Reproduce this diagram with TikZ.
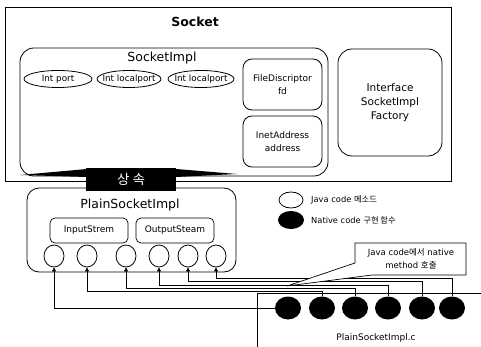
\documentclass[tikz,border=0pt]{standalone}
\usepackage{fontspec}
\setmainfont{DejaVu Sans}
\newfontfamily\kr{Noto Sans CJK KR}
\usetikzlibrary{shapes.geometric,arrows.meta}
\tikzset{
 frame/.style={draw, line width=0.8pt, inner sep=0pt},
 rbox/.style={draw, rounded corners=14pt, line width=0.8pt, inner sep=0pt},
 sbox/.style={draw, rounded corners=9pt, line width=0.8pt, inner sep=0pt, align=center, font=\fontsize{9}{12.5}\selectfont},
 tbox/.style={draw, rounded corners=5pt, line width=0.7pt, inner sep=0pt, font=\fontsize{9}{10}\selectfont},
 ovaltext/.style={inner sep=0pt, font=\fontsize{8.8}{10}\selectfont},
 ovalline/.style={line width=0.8pt},
 jdot/.style={draw, ellipse, line width=0.8pt, minimum width=20pt, minimum height=22pt, inner sep=0pt},
 ndot/.style={fill=black, ellipse, minimum width=26pt, minimum height=23pt, inner sep=0pt},
 conn/.style={line width=0.6pt, -{Triangle[length=4pt,width=4pt]}},
 lbl/.style={inner sep=0pt, font=\fontsize{8.3}{10}\selectfont},
}
\begin{document}
\begin{tikzpicture}[x=1pt,y=-1pt]
\useasboundingbox (0,0) rectangle (481,347);
% Socket
\node[frame, minimum width=446pt, minimum height=174pt] (socket) at (228,94) {};
\node[font=\bfseries\fontsize{12.5}{14}\selectfont] (sockettitle) at (195,22) {Socket};
% SocketImpl
\node[rbox, minimum width=308pt, minimum height=128pt] (impl) at (174,112) {};
\node[font=\fontsize{12.5}{14}\selectfont] (impltitle) at (162,58) {SocketImpl};
\node[ovaltext] (port) at (58,79) {Int port};
\draw[ovalline] (port.center) ellipse [x radius=34, y radius=8.5];
\node[ovaltext] (lport1) at (129,79) {Int localport};
\draw[ovalline] (lport1.center) ellipse [x radius=32, y radius=8.5];
\node[ovaltext] (lport2) at (201,79) {Int localport};
\draw[ovalline] (lport2.center) ellipse [x radius=33, y radius=8.5];
\node[sbox, minimum width=79pt, minimum height=51pt] (fd) at (282.5,84.5) {FileDiscriptor\\fd};
\node[sbox, minimum width=79pt, minimum height=51pt] (addr) at (282.5,141.5) {InetAddress\\address};
% Factory
\node[rbox, minimum width=104pt, minimum height=107pt, align=center, font=\fontsize{10.5}{14}\selectfont] (factory) at (390,102.5) {Interface\\SocketImpl\\Factory};
% PlainSocketImpl
\node[rbox, rounded corners=12pt, minimum width=209pt, minimum height=84pt] (plain) at (131.5,230) {};
\node[font=\fontsize{12.5}{14}\selectfont] (plaintitle) at (130,205) {PlainSocketImpl};
\node[tbox, minimum width=78pt, minimum height=25pt] (instr) at (89,230.5) {InputStrem};
\node[tbox, minimum width=78pt, minimum height=25pt] (outstr) at (175,230.5) {OutputSteam};
\node[jdot] (c1) at (54,256) {};
\node[jdot] (c2) at (87,256) {};
\node[jdot] (c3) at (126,256) {};
\node[jdot] (c4) at (159,256) {};
\node[jdot] (c5) at (188,256) {};
\node[jdot] (c6) at (216,256) {};
% inheritance banner
\fill (20,175) -- (87,169) -- (87,177) -- cycle;
\fill (176,169) -- (237,174) -- (176,177) -- cycle;
\node[fill=black, text=white, minimum width=90pt, minimum height=23pt, inner sep=0pt, font=\kr\fontsize{13.5}{14}\selectfont] (inherit) at (131,179.5) {상 속};
% legend
\node[jdot, minimum width=24pt, minimum height=16pt] (legj) at (291,200) {};
\node[lbl, anchor=west] (legjt) at (311,200) {Java code {\kr 메소드}};
\node[ndot, minimum width=26pt, minimum height=18pt] (legn) at (291,220) {};
\node[lbl, anchor=west] (legnt) at (311,220) {Native code {\kr 구현 함수}};
% PlainSocketImpl.c
\coordinate (cfb) at (257,347);
\coordinate (cfc) at (257,293);
\coordinate (cfr) at (481,293);
\draw[line width=0.7pt] (cfb) -- (cfc) -- (cfr);
\node[ndot] (n1) at (288,308) {};
\node[ndot] (n2) at (322,308) {};
\node[ndot] (n3) at (355,308) {};
\node[ndot] (n4) at (388,308) {};
\node[ndot] (n5) at (422,308) {};
\node[ndot] (n6) at (452,308) {};
\node[font=\fontsize{9}{10}\selectfont] (ctitle) at (376,338) {PlainSocketImpl.c};
% connectors
\draw[conn] (n1.west) -| (c1.south);
\draw[conn] (n2.north) -- (n2.north |- 0,291) -| (c2.south);
\draw[conn] (n3.north) -- (n3.north |- 0,288) -| (c3.south);
\draw[conn] (n4.north) -- (n4.north |- 0,285) -| (c4.south);
\draw[conn] (n5.north) -- (n5.north |- 0,281) -| (c5.south);
\draw[conn] (n6.north) -- (n6.north |- 0,278) -| (c6.south);
% callout
\draw[line width=0.7pt, fill=white] (355,243) -- (466,243) -- (466,275) -- (372,275) -- (287,286) -- (355,263) -- cycle;
\node[lbl, align=center, font=\fontsize{8.5}{13}\selectfont] (callout) at (411,259) {Java code{\kr 에서} native\\method {\kr 호출}};
\end{tikzpicture}
\end{document}
